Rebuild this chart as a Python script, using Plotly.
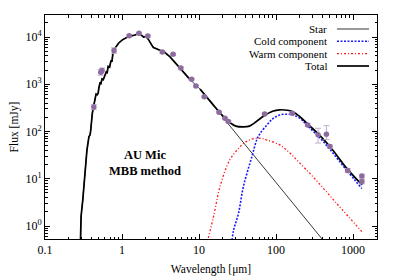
import plotly.graph_objects as go

# ---------------- data ----------------
star_wl = [0.285, 0.291, 0.294, 0.309, 0.324, 0.337, 0.342, 0.345, 0.350, 0.372, 0.385,
           0.393, 0.411, 0.436, 0.447, 0.460, 0.475, 0.490, 0.500, 0.520, 0.530, 0.550,
           0.570, 0.600, 0.630, 0.640, 0.660, 0.690, 0.720, 0.740, 0.770, 0.800, 0.900,
           1.00, 1.21, 1.48, 1.66, 1.75, 1.90, 2.05, 2.20, 2.40, 2.55, 2.70, 3.12, 3.60,
           4.20, 4.80, 5.70, 7.60, 10.3, 20.0, 50.0, 100.0, 200.0, 405.0, 450.0]
star_fl = [0.2, 0.53, 1.6, 3.5, 8.0, 18.0, 30.0, 24.0, 40.0, 78.0, 85.0,
           110.0, 240.0, 400.0, 470.0, 620.0, 600.0, 650.0, 830.0, 1100.0, 1000.0, 1300.0,
           1250.0, 1600.0, 1900.0, 1700.0, 2400.0, 2300.0, 3200.0, 3000.0, 5300.0, 5600.0, 7400.0,
           8600.0, 10200.0, 11000.0, 12000.0, 11200.0, 10000.0, 10300.0, 8900.0, 7000.0, 6000.0, 5800.0, 5300.0, 4700.0,
           3800.0, 3000.0, 2200.0, 1270.0, 790.0, 205.0, 33.0, 8.3, 2.07, 0.51, 0.41]

cold_wl = [26.0, 28.0, 32.5, 37.6, 48.4, 56.0, 62.0, 76.0, 90.0, 112.0, 140.0, 166.0, 204.0,
           250.0, 410.0, 820.0, 1300.0]
cold_fl = [0.3, 0.8, 1.85, 6.8, 29.0, 66.0, 91.0, 137.0, 185.0, 224.0, 232.0, 224.0, 190.0,
           137.0, 61.0, 15.3, 6.2]

warm_wl = [12.5, 15.4, 18.7, 25.0, 31.0, 37.6, 46.0, 56.0, 66.0, 76.0, 112.0, 151.0, 200.0,
           302.0, 612.0, 1300.0]
warm_fl = [0.4, 1.57, 6.8, 25.0, 40.0, 56.0, 67.0, 72.0, 71.0, 66.0, 52.0, 35.0, 22.0,
           11.0, 3.0, 0.76]

total_wl = [10.3, 15.0, 18.2, 21.7, 25.0, 30.0, 37.6, 45.0, 56.0, 70.0, 90.0, 112.0, 140.0,
            162.0, 200.0, 250.0, 350.0, 500.0, 850.0, 1310.0]
total_fl = [790.0, 380.0, 262.0, 192.0, 155.0, 130.0, 125.0, 130.0, 165.0, 215.0, 268.0, 288.0, 282.0,
            265.0, 212.0, 150.0, 90.0, 48.0, 15.8, 7.4]

obs_wl = [0.43, 0.53, 0.55, 0.787, 1.24, 1.66, 2.16, 3.34, 4.6, 5.8, 8.0, 9.1, 11.7,
          18.2, 21.7, 24.0, 71.0, 162.0, 257.0, 350.0, 450.0, 500.0, 850.0, 1300.0, 1300.0]
obs_fl = [330.0, 1800.0, 1950.0, 5200.0, 10700.0, 12000.0, 10500.0, 4800.0, 4300.0, 2200.0, 1270.0, 920.0, 545.0,
          255.0, 190.0, 162.0, 235.0, 243.0, 137.0, 85.0, 88.0, 48.0, 15.0, 11.4, 8.8]
obs_err_up = [40.0, 250.0, 250.0, 700.0, 600.0, 500.0, 500.0, 300.0, 200.0, 100.0, 50.0, 40.0, 20.0,
              10.0, 8.0, 7.0, 12.0, 12.0, 8.0, 32.0, 45.0, 4.0, 1.5, 1.0, 1.0]
obs_err_dn = [40.0, 250.0, 250.0, 700.0, 600.0, 500.0, 500.0, 300.0, 200.0, 100.0, 50.0, 40.0, 20.0,
              10.0, 8.0, 7.0, 12.0, 12.0, 8.0, 28.0, 20.0, 4.0, 1.5, 1.0, 1.0]

x_ticks = [0.1, 1, 10, 100, 1000]
x_ticktext = ["0.1", "1", "10", "100", "1000"]
y_ticks = [1, 10, 100, 1000, 10000]
y_ticktext = ["10<sup>0</sup>", "10<sup>1</sup>", "10<sup>2</sup>", "10<sup>3</sup>", "10<sup>4</sup>"]

legend_names = ["Star", "Cold component", "Warm component", "Total"]
# ----------------------------------------------------------

FONT = "Liberation Serif"

fig = go.Figure()
fig.add_trace(go.Scatter(x=star_wl, y=star_fl, mode="lines",
                         line=dict(color="#222222", width=0.9), showlegend=False))
fig.add_trace(go.Scatter(x=warm_wl, y=warm_fl, mode="lines", line_shape="spline",
                         line=dict(color="#ff1a1a", width=1.3, dash="2px,2px,1px,2px"), showlegend=False))
fig.add_trace(go.Scatter(x=cold_wl, y=cold_fl, mode="lines", line_shape="spline",
                         line=dict(color="#1a1aff", width=1.6, dash="2px,1.5px"), showlegend=False))
# total: star part at short wavelengths then total curve
fig.add_trace(go.Scatter(x=[w for w in star_wl if w < 10.3], y=[f for w, f in zip(star_wl, star_fl) if w < 10.3],
                         mode="lines", line=dict(color="black", width=1.7), showlegend=False))
fig.add_trace(go.Scatter(x=total_wl, y=total_fl, mode="lines", line_shape="spline",
                         line=dict(color="black", width=1.7), showlegend=False))
fig.add_trace(go.Scatter(x=obs_wl, y=obs_fl, mode="markers",
                         marker=dict(color="#8c6c9e", size=5.5),
                         error_y=dict(type="data", array=obs_err_up, arrayminus=obs_err_dn,
                                      color="#c4aecf", thickness=1, width=3),
                         showlegend=False))

# page offset of the figure (default HTML body margin)
OFF = 8
# plot area in page pixels
x0p, x1p, y0p, y1p = 45, 377, 15, 239
def px(x):
    return (x - x0p) / (x1p - x0p)
def py(y):
    return (y1p - y) / (y1p - y0p)

leg_y = [29, 41.3, 53.7, 66]
leg_styles = [dict(color="#555555", width=1.2),
              dict(color="#1a1aff", width=1.6, dash="2px,1.5px"),
              dict(color="#ff1a1a", width=1.3, dash="2px,2px,1px,2px"),
              dict(color="black", width=1.7)]
for name, yy, st in zip(legend_names, leg_y, leg_styles):
    fig.add_annotation(x=px(329), y=py(yy), xref="paper", yref="paper", text=name,
                       showarrow=False, xanchor="right", yanchor="middle",
                       font=dict(family=FONT, size=11, color="black"))
    fig.add_shape(type="line", xref="paper", yref="paper", x0=px(337), x1=px(369),
                  y0=py(yy), y1=py(yy), line=st)

fig.add_annotation(x=px(145), y=py(162.5), xref="paper", yref="paper",
                   text="<b>AU Mic<br>MBB method</b>", showarrow=False,
                   xanchor="center", yanchor="middle",
                   font=dict(family=FONT, size=12.5, color="black"))

def minor_vals(lo, hi):
    v = []
    for e in range(lo, hi + 1):
        for m in range(2, 10):
            v.append(m * 10 ** e)
    return v

axis_common = dict(type="log", showline=True, linecolor="black", linewidth=1, mirror="allticks",
                   ticks="inside", ticklen=5, tickwidth=1, tickcolor="black", showgrid=False,
                   zeroline=False, automargin=False, tickfont=dict(family=FONT, size=12, color="black"))

fig.update_xaxes(**axis_common, range=[-1, 3.31], tickmode="array", tickvals=x_ticks, ticktext=x_ticktext,
                 minor=dict(tickmode="array", tickvals=minor_vals(-1, 3), ticks="inside", ticklen=2.5,
                            tickcolor="black", showgrid=False),
                 title=dict(text="Wavelength [μm]", font=dict(family=FONT, size=11.5, color="black"), standoff=8))
fig.update_yaxes(**axis_common, range=[-0.275, 4.466], tickmode="array", tickvals=y_ticks, ticktext=y_ticktext,
                 minor=dict(tickmode="array", tickvals=minor_vals(-1, 4), ticks="inside", ticklen=2.5,
                            tickcolor="black", showgrid=False),
                 title=dict(text="Flux [mJy]", font=dict(family=FONT, size=11.5, color="black"), standoff=6))

W, H = 399 - OFF, 279 - OFF
fig.update_layout(width=W, height=H,
                  margin=dict(l=x0p - OFF, r=W - (x1p - OFF), t=y0p - OFF, b=H - (y1p - OFF)),
                  paper_bgcolor="white", plot_bgcolor="white", showlegend=False)

fig.write_html("out.html")
